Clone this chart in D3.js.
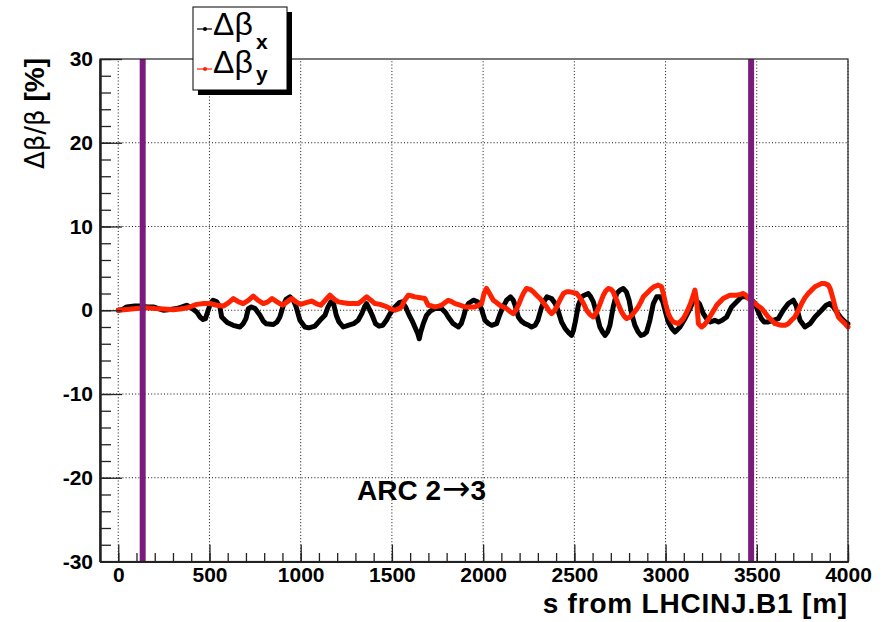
<!DOCTYPE html>
<html><head><meta charset="utf-8">
<script src="https://cdn.jsdelivr.net/npm/d3@7"></script>
<style>
body{margin:0;background:#fff}
svg{display:block}
text{font-family:"Liberation Sans",Arial,Helvetica,sans-serif}
</style>
</head><body>
<svg id="c" width="892" height="622"></svg>
<script>
// ---------- data ----------
const sX = [0,25,46,90,119,160,192,220,247,285,320,350,375,400,430,448,465,478,490,505,520,540,557,567,585,600,630,667,685,700,713,730,750,777,795,810,850,870,886,905,920,941,960,975,996,1023,1045,1078,1106,1133,1150,1165,1180,1195,1210,1233,1260,1290,1315,1335,1350,1361,1375,1392,1410,1430,1450,1470,1490,1517,1540,1555,1575,1595,1612,1630,1642,1650,1658,1672,1690,1710,1736,1772,1795,1809,1836,1864,1880,1892,1905,1919,1946,1970,1990,2000,2010,2030,2047,2074,2090,2101,2115,2129,2150,2165,2175,2193,2210,2229,2250,2266,2285,2300,2321,2335,2350,2375,2395,2410,2430,2450,2470,2485,2495,2505,2522,2540,2555,2576,2590,2604,2622,2640,2655,2668,2682,2695,2713,2732,2750,2768,2785,2800,2814,2832,2850,2865,2880,2896,2914,2933,2951,2970,2985,2997,3015,3035,3052,3079,3106,3134,3150,3165,3185,3207,3225,3245,3270,3290,3310,3335,3362,3417,3440,3465,3490,3508,3525,3540,3563,3590,3618,3645,3673,3700,3715,3737,3764,3792,3819,3855,3880,3900,3920,3938,3965,3993,4000];
const dBetaX = [0,0.1,0.4,0.5,0.5,0.4,0.4,0.2,0.0,0.1,0.2,0.4,0.6,0.3,-0.2,-0.8,-1.1,-1.0,-0.2,0.8,1.2,1.0,0.4,-0.8,-1.2,-1.5,-1.8,-2.0,-1.6,-1.0,0.2,0.4,0.2,-0.6,-1.3,-1.6,-1.7,-1.4,-0.8,0.6,1.3,1.6,1.2,0.4,-1.2,-2.0,-2.1,-1.9,-1.2,-0.6,0.4,1.0,0.8,-0.6,-1.4,-2.0,-1.8,-1.6,-1.2,-0.4,0.4,0.8,0.2,-0.6,-1.6,-1.9,-1.8,-1.2,-0.4,0.4,0.9,1.0,0.4,-0.6,-1.3,-2.2,-2.8,-3.4,-2.6,-1.6,-0.6,-0.1,0.2,0.2,-0.3,-0.8,-1.6,-2.0,-1.6,-0.8,0.2,0.8,1.2,1.0,0.2,-0.5,-1.2,-1.6,-1.8,-1.6,-0.6,0.0,0.6,1.2,1.6,1.2,0.6,-0.8,-1.3,-1.6,-1.8,-2.0,-1.8,-1.2,0.4,1.1,1.6,1.4,0.8,0.0,-1.4,-2.2,-2.7,-3.0,-2.4,-1.4,0.6,1.6,1.8,2.0,1.6,1.0,-0.4,-2.0,-2.6,-3.0,-2.6,-1.8,0.4,2.0,2.4,2.6,2.2,1.2,-0.4,-1.8,-2.6,-3.0,-2.9,-2.6,-1.2,0.8,1.6,1.6,1.0,0.0,-1.4,-2.2,-2.6,-2.0,-1.0,0.2,1.0,1.2,0.8,-0.4,-1.0,-1.4,-1.2,-1.4,-1.2,-0.8,0.4,1.6,1.6,1.4,0.8,-0.2,-1.0,-1.4,-1.4,-1.2,-1.0,0.0,0.8,1.2,0.6,-1.2,-2.0,-1.6,-0.8,0.0,0.6,0.8,0.4,-0.2,-1.0,-1.6,-1.6];

const sY = [0,46,100,150,200,250,300,340,380,430,470,503,540,576,605,631,660,685,715,740,765,795,820,843,870,900,925,950,975,1000,1030,1060,1085,1110,1135,1160,1185,1206,1235,1261,1290,1316,1340,1361,1385,1407,1435,1462,1490,1517,1540,1553,1570,1590,1610,1626,1655,1681,1699,1720,1736,1755,1772,1790,1809,1830,1846,1875,1900,1930,1955,1975,1992,2005,2019,2035,2056,2075,2092,2110,2129,2150,2165,2180,2193,2208,2220,2238,2257,2275,2293,2312,2330,2348,2362,2375,2390,2403,2420,2440,2458,2476,2495,2513,2527,2540,2555,2567,2585,2604,2618,2631,2645,2659,2672,2686,2700,2713,2722,2732,2745,2759,2773,2787,2805,2823,2850,2865,2878,2896,2914,2935,2960,2978,2990,3000,3015,3028,3042,3070,3097,3112,3125,3140,3152,3161,3170,3180,3198,3210,3225,3240,3253,3267,3280,3298,3316,3335,3353,3372,3390,3410,3426,3440,3454,3472,3490,3508,3527,3545,3563,3582,3600,3618,3636,3655,3673,3690,3709,3728,3746,3764,3782,3800,3819,3837,3855,3873,3892,3902,3910,3920,3929,3938,3947,3960,3974,3988,4000];
const dBetaY = [0,0.1,0.2,0.3,0.2,0.15,0.05,0.15,0.3,0.7,0.8,0.8,0.6,0.5,0.9,1.4,1.0,0.8,1.2,1.7,1.2,0.8,1.0,1.4,1.0,0.6,1.0,1.4,1.0,0.7,0.9,1.1,0.8,0.6,1.2,1.8,1.3,1.0,0.9,0.8,0.8,0.8,1.2,1.6,1.2,0.8,0.7,0.5,0.2,0.0,0.2,0.4,1.2,1.8,1.7,1.6,1.5,1.4,0.6,0.5,0.4,0.5,0.6,0.9,1.2,1.0,0.8,0.6,0.4,0.4,0.4,0.6,0.8,2.0,2.6,2.0,1.2,0.9,0.6,0.4,0.2,-0.2,-0.4,0.0,0.6,1.4,2.0,2.6,2.5,2.2,1.8,1.4,0.9,0.4,-0.1,-0.4,-0.1,0.4,1.2,2.0,2.2,2.2,2.1,2.0,1.6,1.2,0.6,0.0,-0.5,-0.8,-0.4,0.2,1.0,1.8,2.3,2.6,2.5,2.2,1.7,1.2,0.5,-0.2,-0.7,-1.0,-0.8,-0.4,0.4,1.0,1.6,2.0,2.4,2.8,3.0,2.8,1.8,0.8,-0.4,-1.0,-1.4,-1.6,-1.0,-0.4,0.2,1.0,1.8,2.4,1.2,-1.6,-2.0,-1.8,-1.4,-0.9,-0.4,0.1,0.6,1.0,1.4,1.6,1.8,1.8,1.8,1.9,2.0,1.8,1.4,1.1,0.8,0.5,0.2,-0.3,-0.8,-1.2,-1.6,-1.7,-1.8,-1.8,-1.6,-1.2,-0.8,0.0,0.8,1.5,2.0,2.4,2.8,3.0,3.2,3.2,3.0,2.6,2.0,1.2,0.4,-0.2,-0.8,-1.1,-1.4,-1.7,-2.0];

const xMajorTicks = [0,500,1000,1500,2000,2500,3000,3500,4000];
const xMinorTicks = d3.range(0, 4001, 100);
const yMajorTicks = [-30,-20,-10,0,10,20,30];
const yMinorTicks = d3.range(-30, 31, 2);
const ipLinesS = [134, 3469];
const seriesColors = ["#000000", "#ff2200"];
const legendSubs = ["x", "y"];

// ---------- layout ----------
const svg = d3.select("#c");
const L = 100, R = 848, T = 59, B = 561.5;
const x = d3.scaleLinear().domain([-100, 4000]).range([L, R]);
const y = d3.scaleLinear().domain([-30, 30]).range([B, T]);
const fmt = d => String(d);

// grid
const grid = svg.append("g").attr("stroke", "#111").attr("stroke-width", 1).attr("stroke-dasharray", "1,2.2");
grid.selectAll("line.gx").data(xMajorTicks).join("line")
  .attr("x1", d => x(d)).attr("x2", d => x(d)).attr("y1", B).attr("y2", T);
grid.selectAll("line.gy").data(yMajorTicks.filter(v => v > -30 && v < 30)).join("line")
  .attr("x1", L).attr("x2", R).attr("y1", d => y(d)).attr("y2", d => y(d));

// series
function drawSeries(sArr, vArr, color) {
  const pts = sArr.map((s, i) => [s, vArr[i]]);
  const line = d3.line().x(d => x(d[0])).y(d => y(d[1]));
  svg.append("path").datum(pts).attr("d", line)
    .attr("fill", "none").attr("stroke", color).attr("stroke-width", 5)
    .attr("stroke-linejoin", "round").attr("stroke-linecap", "round");
}
drawSeries(sX, dBetaX, seriesColors[0]);
drawSeries(sY, dBetaY, seriesColors[1]);

// IP markers
svg.selectAll("line.ip").data(ipLinesS).join("line")
  .attr("x1", d => x(d)).attr("x2", d => x(d)).attr("y1", T).attr("y2", B)
  .attr("stroke", "#7b1c7c").attr("stroke-width", 6);

// frame
svg.append("rect").attr("x", L).attr("y", T).attr("width", R - L).attr("height", B - T)
  .attr("fill", "none").attr("stroke", "#222").attr("stroke-width", 1.2);

// axes
const tickFont = g => g.selectAll("text").attr("font-size", 21).attr("font-weight", "bold").attr("fill", "#000")
  .attr("font-family", "'Liberation Sans',Arial,sans-serif");
const gxMinor = svg.append("g").attr("transform", `translate(0,${B})`)
  .call(d3.axisBottom(x).tickValues(xMinorTicks).tickSize(-8.5).tickSizeOuter(0).tickFormat(""));
const gx = svg.append("g").attr("transform", `translate(0,${B})`)
  .call(d3.axisBottom(x).tickValues(xMajorTicks).tickSize(-17).tickSizeOuter(0).tickPadding(5.5).tickFormat(fmt));
gx.call(tickFont);
const gyMinor = svg.append("g").attr("transform", `translate(${L},0)`)
  .call(d3.axisLeft(y).tickValues(yMinorTicks).tickSize(-11).tickSizeOuter(0).tickFormat(""));
const gy = svg.append("g").attr("transform", `translate(${L},0)`)
  .call(d3.axisLeft(y).tickValues(yMajorTicks).tickSize(-22).tickSizeOuter(0).tickPadding(7).tickFormat(fmt));
gy.call(tickFont);
[gxMinor, gx, gyMinor, gy].forEach(g => {
  g.selectAll("line").attr("stroke", "#222").attr("stroke-width", 1.3);
  g.select(".domain").attr("stroke", "#222").attr("stroke-width", 2);
});

// axis titles
svg.append("text").attr("x", R).attr("y", 613).attr("text-anchor", "end")
  .attr("font-size", 28).attr("letter-spacing", 0.8).attr("font-weight", "bold").text("s from LHCINJ.B1 [m]");
const yt = svg.append("text").attr("transform", "translate(44,58) rotate(-90)")
  .attr("text-anchor", "end").attr("font-size", 28);
yt.append("tspan").attr("font-family", "'DejaVu Sans',sans-serif").attr("font-size", 26).text("Δβ/β");
yt.append("tspan").attr("font-weight", "bold").text(" [%]");

// annotation
const arc = svg.append("text").attr("x", 357).attr("y", 500).attr("font-size", 28).attr("font-weight", "bold");
arc.append("tspan").text("ARC 2");
arc.append("tspan").attr("font-weight", "normal").attr("font-family", "'DejaVu Sans',sans-serif")
  .attr("font-size", 34).attr("dx", 1).text("→");
arc.append("tspan").text("3");

// legend
const lg = svg.append("g");
lg.append("rect").attr("x", 198).attr("y", 12).attr("width", 94).attr("height", 83).attr("fill", "#000");
lg.append("rect").attr("x", 193).attr("y", 7).attr("width", 94).attr("height", 83).attr("fill", "#fff")
  .attr("stroke", "#000").attr("stroke-width", 1);
const rows = [{ly: 29, base: 35, subBase: 49}, {ly: 69, base: 73, subBase: 81}];
rows.forEach((r, i) => {
  lg.append("line").attr("x1", 197).attr("x2", 212).attr("y1", r.ly).attr("y2", r.ly)
    .attr("stroke", seriesColors[i]).attr("stroke-width", 1.2);
  lg.append("circle").attr("cx", 205).attr("cy", r.ly).attr("r", 2).attr("fill", seriesColors[i]);
  lg.append("text").attr("x", 213).attr("y", r.base).attr("font-family", "'DejaVu Sans',sans-serif")
    .attr("font-size", 32).text("Δβ");
  lg.append("text").attr("x", 256).attr("y", r.subBase).attr("font-size", 21).attr("font-weight", "bold")
    .text(legendSubs[i]);
});
</script>
</body></html>
